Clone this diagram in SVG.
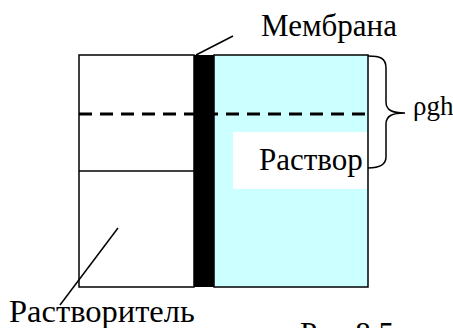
<svg xmlns="http://www.w3.org/2000/svg" width="453" height="328" viewBox="0 0 453 328">
<style>
text{font-family:"Liberation Serif","Times New Roman",serif;fill:#000}
.lbl{font-size:31px}
.ln{stroke:#000;stroke-width:1.5;fill:none}
</style>
<rect width="453" height="328" fill="#fff"/>
<g id="solvent">
<rect x="79" y="55" width="115" height="232" fill="#fff" stroke="#000" stroke-width="1.5"/>
<line class="ln" x1="79" y1="171" x2="194" y2="171"/>
</g>
<g id="solution">
<rect x="214" y="55" width="154" height="232" fill="#CCFFFF" stroke="#000" stroke-width="1.5"/>
<rect x="233" y="132" width="134" height="57" fill="#fff"/>
<text class="lbl" x="259" y="170">Раствор</text>
</g>
<g id="membrane">
<rect x="194" y="55" width="20" height="232" fill="#000"/>
</g>
<g id="connectors">
<line x1="79" y1="114" x2="368" y2="114" stroke="#000" stroke-width="3" stroke-dasharray="13 8"/>
<path class="ln" d="M368,56 C380,56 386,58 386,68 L386,102 C386,110 392,113 405,113 C392,113 386,116 386,124 L386,157 C386,165 380,168 368,168"/>
<line class="ln" x1="196" y1="55" x2="233" y2="36"/>
<line class="ln" x1="60" y1="305" x2="118" y2="228"/>
</g>
<g id="labels">
<text class="lbl" x="261" y="36">Мембрана</text>
<text x="413" y="115" font-size="27">ρgh</text>
<text x="9" y="322" font-size="32.5">Растворитель</text>
<text class="lbl" x="300" y="344">Рис.8.5</text>
</g>
</svg>
